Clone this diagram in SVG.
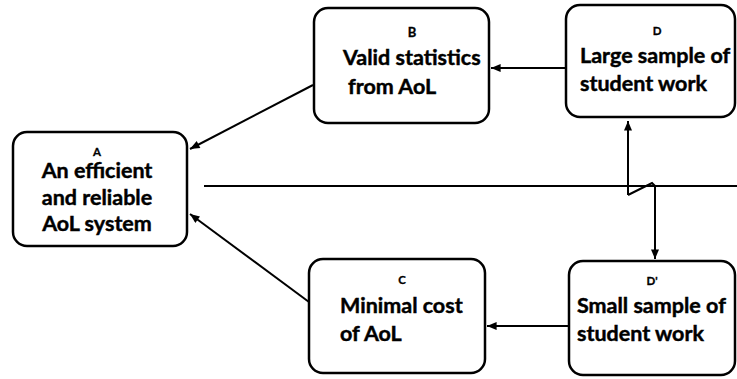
<svg xmlns="http://www.w3.org/2000/svg" width="737" height="379" viewBox="0 0 737 379">
  <style>
    .box { fill: #ffffff; stroke: #000000; stroke-width: 2.5; }
    .conn { fill: none; stroke: #000000; stroke-width: 2; }
    .tag { font-family: Lato, "Open Sans", sans-serif; font-weight: 700; font-size: 11.5px; fill: #000; stroke: #000; stroke-width: 0.3; text-anchor: middle; }
    .txt { font-family: Lato, "Open Sans", sans-serif; font-weight: 700; font-size: 21.5px; fill: #000; stroke: #000; stroke-width: 0.45; }
  </style>
  <defs>
    <marker id="arrow" viewBox="0 0 12 10" refX="12" refY="5" markerWidth="11" markerHeight="8" markerUnits="userSpaceOnUse" orient="auto">
      <path d="M0,0 L12,5 L0,10 Z" fill="#000"/>
    </marker>
  </defs>
  <rect width="737" height="379" fill="#ffffff"/>

  <!-- divider -->
  <line x1="204" y1="186" x2="737" y2="186" stroke="#000" stroke-width="2"/>

  <g id="connectors">
    <line class="conn" x1="313" y1="85" x2="190" y2="149" marker-end="url(#arrow)"/>
    <line class="conn" x1="309" y1="302" x2="190" y2="214" marker-end="url(#arrow)"/>
    <line class="conn" x1="566" y1="68" x2="491" y2="68" marker-end="url(#arrow)"/>
    <line class="conn" x1="569" y1="326" x2="487" y2="326" marker-end="url(#arrow)"/>
    <line class="conn" x1="628" y1="195" x2="628" y2="121" marker-end="url(#arrow)"/>
    <polyline class="conn" points="628,195 652,183 655,186 655,259" marker-end="url(#arrow)"/>
  </g>

  <g id="nodeA">
    <rect class="box" x="13" y="132" width="174" height="114" rx="14"/>
    <text class="tag" x="97" y="156">A</text>
    <text class="txt" x="97" y="178" text-anchor="middle">An efficient</text>
    <text class="txt" x="97" y="205" text-anchor="middle">and reliable</text>
    <text class="txt" x="97" y="231" text-anchor="middle">AoL system</text>
  </g>

  <g id="nodeB">
    <rect class="box" x="314" y="8" width="175" height="115" rx="14"/>
    <text class="tag" x="412" y="37" style="font-size:13px">B</text>
    <text class="txt" x="343" y="65">Valid statistics</text>
    <text class="txt" x="348" y="94">from AoL</text>
  </g>

  <g id="nodeD">
    <rect class="box" x="566" y="5" width="169" height="112" rx="14"/>
    <text class="tag" x="657" y="35">D</text>
    <text class="txt" x="580" y="63">Large sample of</text>
    <text class="txt" x="580" y="91">student work</text>
  </g>

  <g id="nodeC">
    <rect class="box" x="309" y="259" width="176" height="114" rx="14"/>
    <text class="tag" x="402" y="284">C</text>
    <text class="txt" x="340" y="313">Minimal cost</text>
    <text class="txt" x="340" y="341">of AoL</text>
  </g>

  <g id="nodeD2">
    <rect class="box" x="569" y="261" width="166" height="114" rx="14"/>
    <text class="tag" x="652" y="285">D'</text>
    <text class="txt" x="577" y="313">Small sample of</text>
    <text class="txt" x="577" y="341">student work</text>
  </g>
</svg>
